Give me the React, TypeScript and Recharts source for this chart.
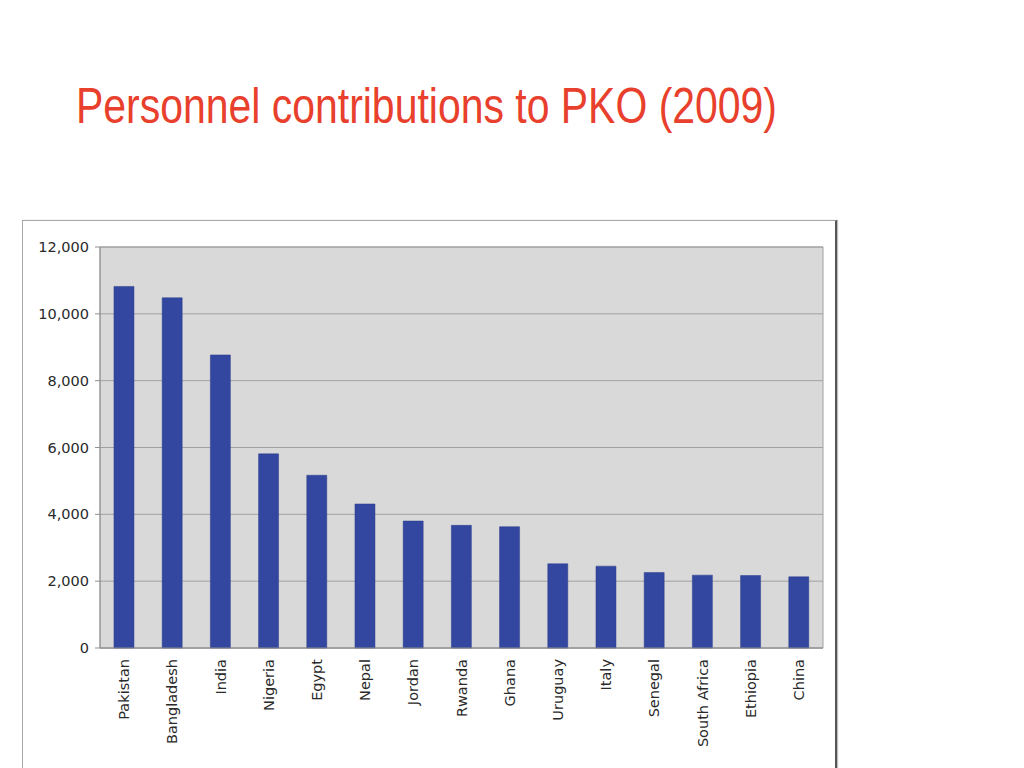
import React from "react";
import {
  BarChart,
  Bar,
  XAxis,
  YAxis,
  CartesianGrid,
  ReferenceArea,
} from "recharts";

const countries = [
  "Pakistan",
  "Bangladesh",
  "India",
  "Nigeria",
  "Egypt",
  "Nepal",
  "Jordan",
  "Rwanda",
  "Ghana",
  "Uruguay",
  "Italy",
  "Senegal",
  "South Africa",
  "Ethiopia",
  "China",
];

const personnel = [
  10820, 10480, 8770, 5810, 5170, 4310, 3800, 3670, 3630, 2520, 2450, 2260,
  2180, 2170, 2130,
];

const yTicks = [0, 2000, 4000, 6000, 8000, 10000, 12000];
const edgeTicks = [0, 1, 2, 3, 4, 5, 6, 7, 8, 9, 10, 11, 12, 13, 14, 15];

const data = countries.map((name, i) => ({ name, value: personnel[i] }));

const fmt = (v: number) => v.toLocaleString("en-US");

const XTick = (props: any) => {
  const { x, y, payload } = props;
  return (
    <text
      x={x}
      y={y}
      transform={`rotate(-90, ${x}, ${y})`}
      textAnchor="end"
      dominantBaseline="central"
      fontFamily="DejaVu Sans, Verdana, sans-serif"
      fontSize={14.5}
      fill="#2a2a2a"
    >
      {payload.value}
    </text>
  );
};

export default function App() {
  return (
    <div
      style={{
        position: "absolute",
        left: 0,
        top: 0,
        width: 1024,
        height: 768,
        overflow: "hidden",
        background: "#fff",
      }}
    >
      <svg
        width={1024}
        height={200}
        style={{ position: "absolute", left: 0, top: 0 }}
      >
        <text
          x={76}
          y={123}
          fontFamily="'Liberation Sans Narrow', 'Liberation Sans', Arial, sans-serif"
          fontSize={50}
          fill="#e8402c"
          textLength={701}
          lengthAdjust="spacingAndGlyphs"
        >
          Personnel contributions to PKO (2009)
        </text>
      </svg>
      <div
        style={{
          position: "absolute",
          left: 22,
          top: 220,
          width: 812,
          height: 548,
          borderLeft: "1px solid #a8a8a8",
          borderTop: "1px solid #a8a8a8",
          borderRight: "2px solid #555",
          boxShadow: "1px 0 1px rgba(0,0,0,0.25)",
        }}
      />
      <div style={{ position: "absolute", left: 0, top: 0 }}>
        <BarChart
          width={1024}
          height={768}
          data={data}
          margin={{ top: 247, right: 201, left: 40, bottom: 21 }}
          barCategoryGap="29%"
        >
          <CartesianGrid
            vertical={false}
            stroke="#a0a0a0"
            fill="#d9d9d9"
            fillOpacity={1}
          />
          <XAxis
            type="number"
            dataKey={() => 0}
            domain={[0, 15]}
            ticks={edgeTicks}
            tick={false}
            tickSize={5}
            tickLine={{ stroke: "#909090" }}
            axisLine={{ stroke: "#909090" }}
            height={1}
            allowDataOverflow
          />
          <XAxis
            xAxisId="cat"
            dataKey="name"
            interval={0}
            axisLine={false}
            tickLine={false}
            tickSize={0}
            tickMargin={10}
            tick={<XTick />}
            height={98}
          />
          <YAxis
            domain={[0, 12000]}
            ticks={yTicks}
            tickFormatter={fmt}
            width={60}
            tickSize={5}
            tickMargin={6}
            tickLine={{ stroke: "#909090" }}
            axisLine={{ stroke: "#909090" }}
            tick={{
              fontFamily: "DejaVu Sans, Verdana, sans-serif",
              fontSize: 14.5,
              fill: "#2a2a2a",
            }}
            interval={0}
          />
          <ReferenceArea
            y1={0}
            y2={12000}
            fill="none"
            stroke="#a0a0a0"
            strokeWidth={1}
            ifOverflow="visible"
          />
          <Bar
            xAxisId="cat"
            dataKey="value"
            fill="#3347a1"
            stroke="#2a3c8a"
            strokeWidth={0.5}
            isAnimationActive={false}
          />
        </BarChart>
      </div>
    </div>
  );
}
